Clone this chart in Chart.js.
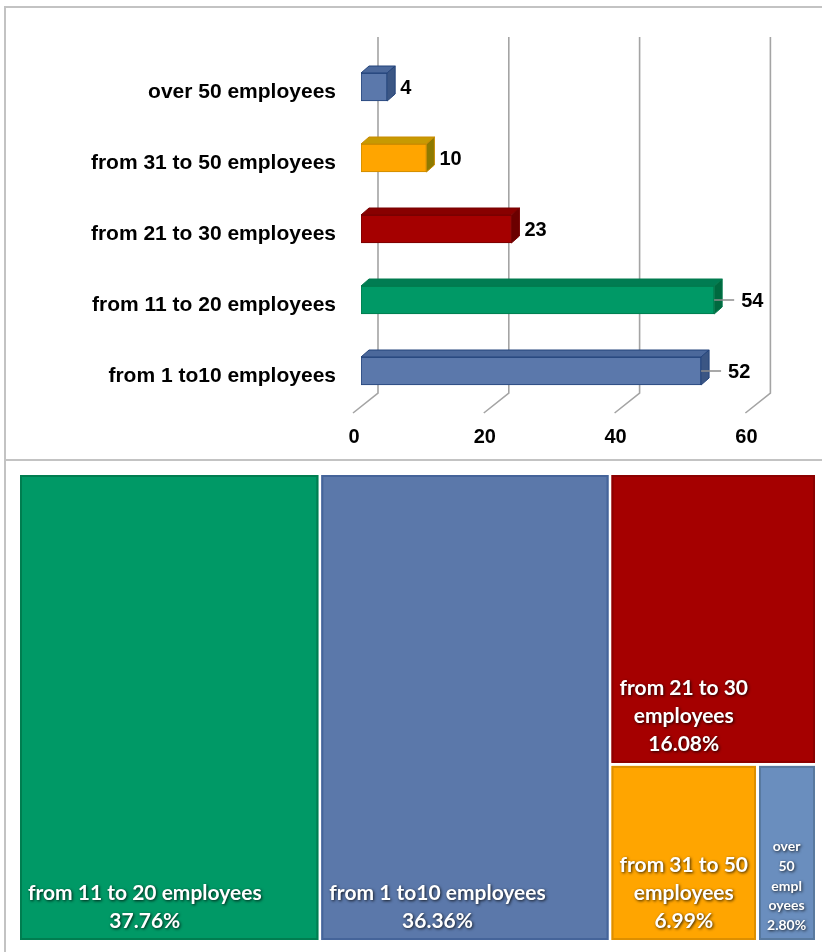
<!DOCTYPE html>
<html>
<head>
<meta charset="utf-8">
<title>Companies by number of employees</title>
<script src="https://cdn.jsdelivr.net/npm/chart.js@4.4.1/dist/chart.umd.min.js"></script>
<style>
  html, body { margin: 0; padding: 0; background: #ffffff; }
  #page { position: relative; width: 822px; height: 952px; overflow: hidden; background: #ffffff; }
  #topFrame { position: absolute; left: 4px; top: 6px; width: 840px; height: 455px; box-sizing: border-box; border: 2px solid #c3c3c3; }
  #bottomFrame { position: absolute; left: 4px; top: 461px; width: 2px; height: 500px; background: #c3c3c3; }
  #barCanvas { position: absolute; left: 0; top: 0; }
  #treeCanvas { position: absolute; left: 0; top: 461px; }
</style>
</head>
<body>
<div id="page">
  <div id="topFrame"></div>
  <div id="bottomFrame"></div>
  <canvas id="barCanvas" width="822" height="461"></canvas>
  <canvas id="treeCanvas" width="822" height="491"></canvas>
</div>
<script>
// Size classes, listed top to bottom as they appear in the bar chart
const categories = [
  "over 50 employees",
  "from 31 to 50 employees",
  "from 21 to 30 employees",
  "from 11 to 20 employees",
  "from 1 to10 employees"
];
// Number of companies in each class
const employeeCounts = [4, 10, 23, 54, 52];
// Value axis ticks
const axisTicks = [0, 20, 40, 60];
// Text lines used inside the treemap tiles (same order as categories)
const tileLines = [
  ["over", "50", "empl", "oyees"],
  ["from 31 to 50", "employees"],
  ["from 21 to 30", "employees"],
  ["from 11 to 20 employees"],
  ["from 1 to10 employees"]
];

// Colours per category: front face, top face, side face, outline
const frontColors = ["#5b78ab", "#ffa500", "#a50000", "#009966", "#5b78ab"];
const topColors   = ["#4b689b", "#c79a02", "#880000", "#007c52", "#4b689b"];
const sideColors  = ["#3b5684", "#8d7a00", "#6b0000", "#00693f", "#3b5684"];
const edgeColors  = ["#23437a", "#c98a00", "#760000", "#007a4c", "#23437a"];
// Treemap tile colours and their darker rims
const tileColors  = ["#6a8ebe", "#ffa500", "#a50000", "#009966", "#5b78aa"];
const tileRims    = ["#58799f", "#dd8f00", "#8c0000", "#007d50", "#45649a"];

Chart.defaults.font.family = '"Liberation Sans", Arial, sans-serif';
Chart.defaults.color = "#000000";

const DEPTH_X = 8, DEPTH_Y = 7;

// Draws the 3D box walls, floor lines, bar depth faces and value labels
const bar3dPlugin = {
  id: "bar3d",
  beforeDatasetsDraw(chart) {
    const { ctx, chartArea, scales: { x } } = chart;
    ctx.save();
    ctx.strokeStyle = "#a4a4a4";
    ctx.lineWidth = 1.6;
    axisTicks.forEach(v => {
      const px = x.getPixelForValue(v);
      ctx.beginPath();
      ctx.moveTo(px + 17, chartArea.top - 14.5);
      ctx.lineTo(px + 17, chartArea.bottom - 13.5);
      ctx.lineTo(px - 8, chartArea.bottom + 6.5);
      ctx.stroke();
    });
    ctx.restore();
  },
  afterDatasetsDraw(chart) {
    const { ctx } = chart;
    const meta = chart.getDatasetMeta(0);
    ctx.save();
    meta.data.forEach((bar, i) => {
      const top = bar.y - bar.height / 2;
      const bot = bar.y + bar.height / 2;
      const x0 = bar.base, x1 = bar.x;
      ctx.lineJoin = "round";
      ctx.lineWidth = 1;
      ctx.strokeStyle = edgeColors[i];
      // top face
      ctx.beginPath();
      ctx.moveTo(x0, top);
      ctx.lineTo(x0 + DEPTH_X, top - DEPTH_Y);
      ctx.lineTo(x1 + DEPTH_X, top - DEPTH_Y);
      ctx.lineTo(x1, top);
      ctx.closePath();
      ctx.fillStyle = topColors[i];
      ctx.fill();
      ctx.stroke();
      // side face
      ctx.beginPath();
      ctx.moveTo(x1, top);
      ctx.lineTo(x1 + DEPTH_X, top - DEPTH_Y);
      ctx.lineTo(x1 + DEPTH_X, bot - DEPTH_Y);
      ctx.lineTo(x1, bot);
      ctx.closePath();
      ctx.fillStyle = sideColors[i];
      ctx.fill();
      ctx.stroke();

      // value label
      const v = employeeCounts[i];
      ctx.font = 'bold 20px "Liberation Sans", Arial, sans-serif';
      ctx.fillStyle = "#000000";
      ctx.textBaseline = "middle";
      ctx.textAlign = "left";
      if (v > 40) {
        ctx.strokeStyle = "#8c8c8c";
        ctx.lineWidth = 1.5;
        ctx.beginPath();
        ctx.moveTo(x1, bar.y);
        ctx.lineTo(x1 + 20, bar.y);
        ctx.stroke();
        ctx.fillText(String(v), x1 + 27, bar.y + 1);
      } else {
        ctx.fillText(String(v), x1 + DEPTH_X + 5, bar.y + 1.5);
      }
    });
    ctx.restore();
  }
};

new Chart(document.getElementById("barCanvas"), {
  type: "bar",
  data: {
    labels: categories,
    datasets: [{
      data: employeeCounts,
      backgroundColor: frontColors,
      borderColor: edgeColors,
      borderWidth: 1,
      borderSkipped: false,
      barThickness: 28
    }]
  },
  options: {
    indexAxis: "y",
    responsive: false,
    animation: false,
    layout: { padding: { top: 51.5, right: 68.6, bottom: 0, left: 0 } },
    scales: {
      x: {
        type: "linear",
        min: 0,
        max: 60,
        afterBuildTicks(scale) { scale.ticks = axisTicks.map(v => ({ value: v })); },
        afterFit(scale) { scale.height = 54.5; },
        grid: { display: false, drawTicks: false },
        border: { display: false },
        ticks: {
          font: { size: 20, weight: "bold" },
          color: "#000000",
          padding: 18.5,
          labelOffset: -7
        }
      },
      y: {
        afterFit(scale) { scale.width = 361; },
        grid: { display: false, drawTicks: false },
        border: { display: false },
        ticks: {
          font: { size: 21, weight: "bold" },
          color: "#000000",
          padding: 25,
          labelOffset: 5.5
        }
      }
    },
    plugins: { legend: { display: false }, tooltip: { enabled: false } }
  },
  plugins: [bar3dPlugin]
});

// ---------- Treemap ----------
function worstRatio(row, side) {
  const s = row.reduce((a, b) => a + b, 0);
  const mx = Math.max(...row), mn = Math.min(...row);
  return Math.max(side * side * mx / (s * s), (s * s) / (side * side * mn));
}

// Squarified layout of areas (already sorted descending) inside w x h
function squarify(areas, w, h) {
  const rects = [];
  let x = 0, y = 0;
  let rest = areas.slice();
  while (rest.length) {
    const side = Math.min(w, h);
    const row = [rest[0].area];
    let n = 1;
    while (n < rest.length &&
           worstRatio(row.concat(rest[n].area), side) <= worstRatio(row, side)) {
      row.push(rest[n].area);
      n++;
    }
    const sum = row.reduce((a, b) => a + b, 0);
    const items = rest.slice(0, n);
    if (w >= h) {
      const cw = sum / h;
      let cy = y;
      items.forEach(it => { const rh = it.area / cw; rects.push({ idx: it.idx, x, y: cy, w: cw, h: rh }); cy += rh; });
      x += cw; w -= cw;
    } else {
      const rh = sum / w;
      let cx = x;
      items.forEach(it => { const rw = it.area / rh; rects.push({ idx: it.idx, x: cx, y, w: rw, h: rh }); cx += rw; });
      y += rh; h -= rh;
    }
    rest = rest.slice(n);
  }
  return rects;
}

const treemapPlugin = {
  id: "treemap",
  afterDatasetsDraw(chart) {
    const { ctx, chartArea, scales: { x, y } } = chart;
    const W = chartArea.right - chartArea.left;
    const H = chartArea.bottom - chartArea.top;
    const total = employeeCounts.reduce((a, b) => a + b, 0);
    const order = employeeCounts
      .map((v, idx) => ({ idx, v, area: v / total * W * H }))
      .sort((a, b) => b.v - a.v);
    const rects = squarify(order, W, H);
    const gap = 1.5;
    ctx.save();
    rects.forEach(r => {
      const i = r.idx;
      // map layout units onto the chart's value scales (0..1 on both axes)
      const left = x.getPixelForValue(r.x / W) + gap;
      const right = x.getPixelForValue((r.x + r.w) / W) - gap;
      const top = y.getPixelForValue(r.y / H) + gap;
      const bottom = y.getPixelForValue((r.y + r.h) / H) - gap;
      const w = right - left, h = bottom - top;

      ctx.fillStyle = tileColors[i];
      ctx.fillRect(left, top, w, h);
      ctx.strokeStyle = tileRims[i];
      ctx.lineWidth = 2;
      ctx.strokeRect(left + 1, top + 1, w - 2, h - 2);

      const pct = (employeeCounts[i] / total * 100).toFixed(2) + "%";
      const lines = tileLines[i].concat([pct]);
      const small = w < 80;
      const size = small ? 14 : 21;
      const lh = small ? 19.6 : 28;
      ctx.font = "bold " + size + 'px Lato, "Open Sans", sans-serif';
      const blockW = Math.max(...lines.map(t => ctx.measureText(t).width));
      const cx = left + 8 + blockW / 2;
      let ly = bottom - 5 - lh / 2 - (lines.length - 1) * lh;
      ctx.textAlign = "center";
      ctx.textBaseline = "middle";
      ctx.fillStyle = "#ffffff";
      ctx.shadowColor = "rgba(0,0,0,0.8)";
      ctx.shadowBlur = 3;
      ctx.shadowOffsetX = 1;
      ctx.shadowOffsetY = 1;
      lines.forEach(t => { ctx.fillText(t, cx, ly); ly += lh; });
      ctx.shadowColor = "transparent";
      ctx.shadowBlur = 0;
      ctx.shadowOffsetX = 0;
      ctx.shadowOffsetY = 0;
    });
    ctx.restore();
  }
};

new Chart(document.getElementById("treeCanvas"), {
  type: "scatter",
  data: { datasets: [{ data: [] }] },
  options: {
    responsive: false,
    animation: false,
    layout: { padding: { left: 18.5, right: 5.5, top: 12.5, bottom: 10.5 } },
    scales: {
      x: { type: "linear", min: 0, max: 1, display: false },
      y: { type: "linear", min: 0, max: 1, reverse: true, display: false }
    },
    plugins: { legend: { display: false }, tooltip: { enabled: false } }
  },
  plugins: [treemapPlugin]
});
</script>
</body>
</html>
